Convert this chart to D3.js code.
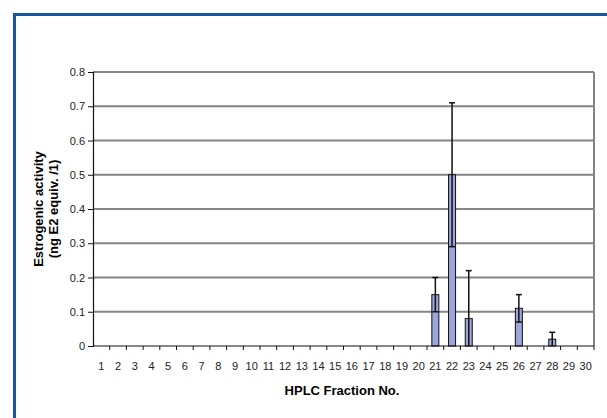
<!DOCTYPE html>
<html>
<head>
<meta charset="utf-8">
<script src="https://cdn.jsdelivr.net/npm/d3@7"></script>
<style>
	body { margin: 0; background: #fff; }
	svg { display: block; font-family: Arial, "Liberation Sans", sans-serif; }
</style>
</head>
<body>
<svg id="chart" width="607" height="418"></svg>
<script>
const fractions = d3.range(1, 31);
const activity = [0, 0, 0, 0, 0, 0, 0, 0, 0, 0, 0, 0, 0, 0, 0, 0, 0, 0, 0, 0,
	0.15, 0.50, 0.08, 0, 0, 0.11, 0, 0.02, 0, 0];
const errors = [0, 0, 0, 0, 0, 0, 0, 0, 0, 0, 0, 0, 0, 0, 0, 0, 0, 0, 0, 0,
	0.05, 0.21, 0.14, 0, 0, 0.04, 0, 0.02, 0, 0];
const yTicks = [0, 0.1, 0.2, 0.3, 0.4, 0.5, 0.6, 0.7, 0.8];

const svg = d3.select("#chart");
const margin = { left: 93, right: 594, top: 72, bottom: 346 };

// blue frame (top and left edges)
svg.append("path")
	.attr("d", "M14.5,418 V14.5 H607")
	.attr("fill", "none")
	.attr("stroke", "#1a55a0")
	.attr("stroke-width", 3);

const x = d3.scaleBand().domain(fractions).range([margin.left, margin.right]).paddingInner(0.58).paddingOuter(0.29);
const xEdge = d3.scaleLinear().domain([0, 30]).range([margin.left, margin.right]);
const y = d3.scaleLinear().domain([0, 0.8]).range([margin.bottom, margin.top]);

// gridlines
svg.append("g")
	.selectAll("line")
	.data(yTicks.filter((d) => d > 0))
	.join("line")
	.attr("x1", margin.left)
	.attr("x2", margin.right)
	.attr("y1", (d) => y(d))
	.attr("y2", (d) => y(d))
	.attr("stroke", "#858585")
	.attr("stroke-width", 2);

// right border
svg.append("line")
	.attr("x1", margin.right).attr("x2", margin.right)
	.attr("y1", margin.top).attr("y2", margin.bottom)
	.attr("stroke", "#858585").attr("stroke-width", 2);

// bars
const rows = fractions.map((f, i) => ({ f, v: activity[i], e: errors[i] }));
svg.append("g")
	.selectAll("rect")
	.data(rows.filter((d) => d.v > 0))
	.join("rect")
	.attr("x", (d) => x(d.f))
	.attr("width", x.bandwidth())
	.attr("y", (d) => y(d.v))
	.attr("height", (d) => y(0) - y(d.v))
	.attr("fill", "#9ba6da")
	.attr("stroke", "#111")
	.attr("stroke-width", 1);

// error bars
const err = svg.append("g").attr("stroke", "#111").attr("stroke-width", 1.5);
rows.filter((d) => d.e > 0).forEach((d) => {
	const cx = x(d.f) + x.bandwidth() / 2;
	const lo = Math.max(0, d.v - d.e);
	const hi = d.v + d.e;
	err.append("line").attr("x1", cx).attr("x2", cx).attr("y1", y(lo)).attr("y2", y(hi));
	err.append("line").attr("x1", cx - 3).attr("x2", cx + 3).attr("y1", y(hi)).attr("y2", y(hi));
	if (d.v - d.e > 0) {
		err.append("line").attr("x1", cx - 3).attr("x2", cx + 3).attr("y1", y(lo)).attr("y2", y(lo));
	}
});

// y axis
const yAxis = svg.append("g")
	.attr("transform", `translate(${margin.left},0)`)
	.call(d3.axisLeft(y).tickValues(yTicks).tickFormat((d) => d === 0 ? "0" : d3.format(".1f")(d)).tickSize(5).tickPadding(3));
yAxis.select(".domain").attr("stroke", "#111").attr("stroke-width", 1.2);
yAxis.selectAll(".tick line").attr("stroke", "#111");
yAxis.selectAll("text").attr("font-size", 11).attr("fill", "#222").attr("font-family", "Arial, Liberation Sans, sans-serif");

// x axis line and ticks at category edges
svg.append("line")
	.attr("x1", margin.left).attr("x2", margin.right)
	.attr("y1", y(0)).attr("y2", y(0))
	.attr("stroke", "#111").attr("stroke-width", 1.2);
svg.append("g")
	.selectAll("line")
	.data(d3.range(1, 31))
	.join("line")
	.attr("x1", (d) => xEdge(d))
	.attr("x2", (d) => xEdge(d))
	.attr("y1", y(0))
	.attr("y2", y(0) + 4)
	.attr("stroke", "#111");
svg.append("g")
	.selectAll("text")
	.data(fractions)
	.join("text")
	.attr("x", (d) => x(d) + x.bandwidth() / 2)
	.attr("y", 370)
	.attr("text-anchor", "middle")
	.attr("font-size", 11)
	.attr("fill", "#222")
	.text((d) => d);

// axis titles
svg.append("text")
	.attr("x", 342).attr("y", 395)
	.attr("text-anchor", "middle")
	.attr("font-size", 13).attr("font-weight", "bold")
	.text("HPLC Fraction No.");

const yTitle = svg.append("text")
	.attr("transform", `translate(43,${(margin.top + margin.bottom) / 2}) rotate(-90)`)
	.attr("text-anchor", "middle")
	.attr("font-size", 13).attr("font-weight", "bold");
yTitle.append("tspan").attr("x", 0).attr("dy", 0).text("Estrogenic activity");
yTitle.append("tspan").attr("x", 0).attr("dy", 15).text("(ng E2 equiv. /1)");
</script>
</body>
</html>
